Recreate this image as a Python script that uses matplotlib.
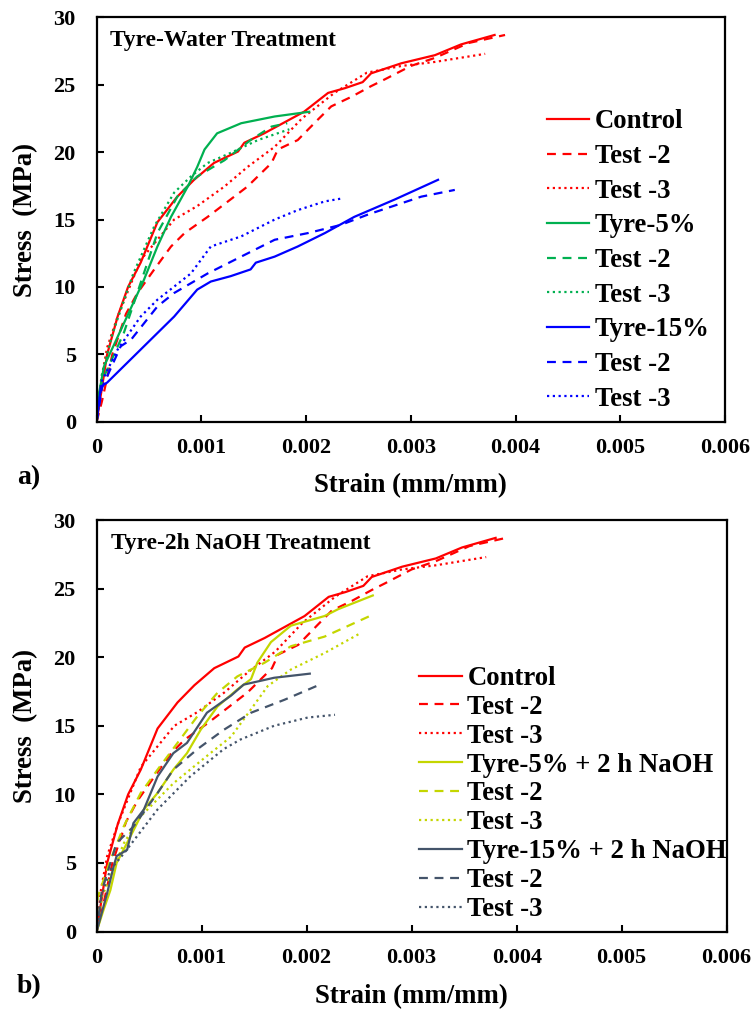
import matplotlib
matplotlib.use("Agg")
import matplotlib.pyplot as plt

plt.rcParams['font.family'] = ['Liberation Serif', 'DejaVu Serif']
plt.rcParams['font.weight'] = 'bold'

# ---------------- data: panel a) Tyre-Water treatment ----------------
control_x = [0, 0.00005, 0.0001, 0.0002, 0.0003, 0.00042, 0.00058, 0.00077, 0.00093, 0.00112,
             0.00135, 0.00141, 0.0016, 0.00179, 0.00198, 0.00221, 0.00237, 0.00254, 0.00262,
             0.00291, 0.00323, 0.00348, 0.0038]
control_y = [0, 2.5, 5.0, 7.8, 10.0, 11.8, 14.8, 16.7, 17.95, 19.2,
             20.05, 20.7, 21.4, 22.2, 23.0, 24.4, 24.75, 25.2, 25.85,
             26.6, 27.2, 28.0, 28.7]
control2_x = [0, 0.00005, 0.00015, 0.00028, 0.00039, 0.00055, 0.00071, 0.00084, 0.00106, 0.00128,
              0.00144, 0.00167, 0.00173, 0.00192, 0.00211, 0.00224, 0.00243, 0.00262, 0.00275,
              0.003, 0.00323, 0.00355, 0.0039]
control2_y = [0, 1.5, 5.0, 8.0, 9.55, 11.3, 13.0, 14.0, 15.2, 16.5,
              17.45, 19.2, 20.2, 20.9, 22.4, 23.4, 24.1, 24.9, 25.4,
              26.4, 27.0, 28.1, 28.7]
control3_x = [0, 0.00004, 0.0001, 0.0002, 0.00042, 0.00074, 0.00096, 0.00122, 0.00144, 0.0017,
              0.00196, 0.00227, 0.00258, 0.00291, 0.00323, 0.00371]
control3_y = [0, 3.0, 5.5, 7.8, 12.0, 15.0, 16.0, 17.45, 18.9, 20.4,
              22.5, 24.4, 25.9, 26.4, 26.7, 27.3]

t5_x = [0, 0.00002, 0.00007, 0.00026, 0.00045, 0.00058, 0.00071, 0.00087, 0.00096, 0.00103,
        0.00115, 0.00138, 0.0017, 0.00203]
t5_y = [0, 2.0, 4.1, 7.3, 10.5, 13.0, 15.2, 17.45, 18.9, 20.2,
        21.4, 22.15, 22.65, 23.0]
t5_2_x = [0, 0.00005, 0.00026, 0.00042, 0.00058, 0.00077, 0.00096, 0.00122, 0.00147, 0.00167, 0.00182]
t5_2_y = [0, 3.0, 6.6, 10.3, 14.0, 16.7, 18.2, 19.4, 20.9, 21.9, 22.15]
t5_3_x = [0, 0.00005, 0.00015, 0.00035, 0.00055, 0.00074, 0.0009, 0.00106, 0.00128, 0.00154, 0.00184]
t5_3_y = [0, 3.5, 6.5, 11.0, 14.5, 17.0, 18.2, 19.2, 19.95, 20.9, 21.7]

t15_x = [0, 0.00004, 0.0001, 0.00042, 0.00074, 0.00096, 0.00109, 0.00128, 0.00147, 0.00152,
         0.0017, 0.00192, 0.00218, 0.00246, 0.00285, 0.00326]
t15_y = [0, 2.6, 2.9, 5.35, 7.8, 9.8, 10.4, 10.8, 11.3, 11.8,
         12.25, 13.0, 14.0, 15.2, 16.5, 17.95]
t15_2_x = [0, 0.00005, 0.00023, 0.00033, 0.00058, 0.00074, 0.00106, 0.00138, 0.0017, 0.00202,
           0.00233, 0.0026, 0.0031, 0.00342]
t15_2_y = [0, 2.5, 5.6, 6.1, 8.55, 9.55, 11.0, 12.25, 13.5, 14.0,
           14.6, 15.4, 16.7, 17.2]
t15_3_x = [0, 0.00005, 0.0002, 0.00042, 0.00058, 0.0009, 0.00109, 0.00138, 0.0017, 0.00192,
           0.00218, 0.00233]
t15_3_y = [0, 3.0, 5.35, 7.8, 9.05, 11.0, 13.0, 13.75, 15.0, 15.7,
           16.35, 16.55]

# ---------------- data: panel b) Tyre-2h NaOH treatment ----------------
n5_x = [0, 0.000065, 0.00013, 0.00019, 0.00032, 0.00045, 0.00058, 0.00073, 0.00086, 0.00099,
        0.00115, 0.00134, 0.00147, 0.00153, 0.00166, 0.00185, 0.00217, 0.0023, 0.00263]
n5_y = [0, 1.57, 3.0, 5.0, 6.9, 8.9, 10.1, 11.8, 13.0, 14.7,
        16.4, 17.65, 18.4, 19.6, 21.1, 22.3, 23.0, 23.5, 24.5]
n5_2_x = [0, 0.00001, 0.00013, 0.00026, 0.00042, 0.00058, 0.00077, 0.00096, 0.00115, 0.00134,
          0.0016, 0.00185, 0.00217, 0.00263]
n5_2_y = [0, 2.5, 5.2, 7.7, 10.1, 11.8, 13.75, 15.7, 17.4, 18.6,
          19.6, 20.8, 21.5, 23.1]
n5_3_x = [0, 0.00005, 0.00026, 0.00042, 0.00073, 0.00105, 0.00128, 0.00147, 0.00163, 0.00185,
          0.00217, 0.0025]
n5_3_y = [0, 2.5, 6.45, 8.4, 10.8, 12.8, 14.2, 16.2, 17.9, 19.1,
          20.3, 21.7]

n15_x = [0, 0.0001, 0.00016, 0.00019, 0.00029, 0.00035, 0.00045, 0.00058, 0.00073, 0.00086,
         0.00105, 0.00128, 0.0014, 0.00169, 0.00203]
n15_y = [0, 2.8, 4.7, 5.5, 5.95, 7.9, 8.9, 11.3, 13.0, 13.75,
         15.95, 17.2, 18.0, 18.5, 18.8]
n15_2_x = [0, 0.00005, 0.00019, 0.00035, 0.00058, 0.00073, 0.00096, 0.00121, 0.00147, 0.00179, 0.00211]
n15_2_y = [0, 3.0, 6.45, 7.65, 10.1, 11.8, 13.3, 14.7, 15.95, 16.9, 17.95]
n15_3_x = [0, 0.00004, 0.00013, 0.00026, 0.00058, 0.00089, 0.00121, 0.00137, 0.00169, 0.00201, 0.00227]
n15_3_y = [0, 2.5, 4.5, 5.7, 8.9, 11.3, 13.3, 14.0, 15.0, 15.6, 15.8]

x_ticks = [0, 0.001, 0.002, 0.003, 0.004, 0.005, 0.006]
x_tick_labels = ['0', '0.001', '0.002', '0.003', '0.004', '0.005', '0.006']
y_ticks = [0, 5, 10, 15, 20, 25, 30]

labels_a = ['Control', 'Test -2', 'Test -3', 'Tyre-5%', 'Test -2', 'Test -3',
            'Tyre-15%', 'Test -2', 'Test -3']
labels_b = ['Control', 'Test -2', 'Test -3', 'Tyre-5% + 2 h NaOH', 'Test -2', 'Test -3',
            'Tyre-15% + 2 h NaOH', 'Test -2', 'Test -3']

RED, GREEN, BLUE = '#ff0000', '#00b050', '#0000ff'
YEL, SLATE = '#c4d600', '#44546a'
LW = 1.6
DASH = (0, (4, 3))
DOT = (0, (1, 1.6))

fig = plt.figure(figsize=(7.54, 10.09), dpi=100)
ax1 = fig.add_axes([0.1282, 0.5821, 0.8333, 0.4006])
ax2 = fig.add_axes([0.1282, 0.0768, 0.8355, 0.4078])

series_a = [
    (control_x, control_y, RED, '-'), (control2_x, control2_y, RED, DASH), (control3_x, control3_y, RED, DOT),
    (t5_x, t5_y, GREEN, '-'), (t5_2_x, t5_2_y, GREEN, DASH), (t5_3_x, t5_3_y, GREEN, DOT),
    (t15_x, t15_y, BLUE, '-'), (t15_2_x, t15_2_y, BLUE, DASH), (t15_3_x, t15_3_y, BLUE, DOT),
]
series_b = [
    (control_x, control_y, RED, '-'), (control2_x, control2_y, RED, DASH), (control3_x, control3_y, RED, DOT),
    (n5_x, n5_y, YEL, '-'), (n5_2_x, n5_2_y, YEL, DASH), (n5_3_x, n5_3_y, YEL, DOT),
    (n15_x, n15_y, SLATE, '-'), (n15_2_x, n15_2_y, SLATE, DASH), (n15_3_x, n15_3_y, SLATE, DOT),
]


def setup(ax, series, labels, title, leg_anchor, labelspacing, title_size):
    handles = []
    for (x, y, c, ls), lab in zip(series, labels):
        h, = ax.plot(x, y, color=c, linestyle=ls, linewidth=LW, label=lab)
        handles.append(h)
    ax.set_xlim(0, 0.006)
    ax.set_ylim(0, 30)
    ax.set_xticks(x_ticks)
    ax.set_xticklabels(x_tick_labels)
    ax.set_yticks(y_ticks)
    ax.tick_params(direction='in', length=5, width=1.5, labelsize=16, pad=12)
    ax.tick_params(axis='y', pad=15)
    for t in ax.get_xticklabels() + ax.get_yticklabels():
        t.set_fontweight('bold')
    for s in ax.spines.values():
        s.set_linewidth(1.6)
        s.set_color('black')
    ax.set_xlabel('Strain (mm/mm)', fontsize=19.3, fontweight='bold')
    ax.set_ylabel('Stress  (MPa)', fontsize=19.3, fontweight='bold')
    ax.xaxis.set_label_coords(0.5, -0.128)
    ax.yaxis.set_label_coords(-0.093, 0.5)
    ax.text(0.022, 0.944, title, transform=ax.transAxes, fontsize=title_size, fontweight='bold',
            ha='left', va='center')
    leg = ax.legend(handles=handles, loc='upper left', bbox_to_anchor=leg_anchor,
                    frameon=False, handlelength=1.6, handletextpad=0.2,
                    labelspacing=labelspacing, borderpad=0, borderaxespad=0,
                    prop={'weight': 'bold', 'size': 19.3})
    return leg


setup(ax1, series_a, labels_a, 'Tyre-Water Treatment', (0.716, 0.7726), 0.36, 16.9)
setup(ax2, series_b, labels_b, 'Tyre-2h NaOH Treatment', (0.512, 0.6454), 0.145, 16.9)

fig.text(17 / 754, 1 - 478 / 1009, 'a)', fontsize=20, fontweight='bold', ha='left', va='center')
fig.text(17 / 754, 1 - 987 / 1009, 'b)', fontsize=20, fontweight='bold', ha='left', va='center')

fig.savefig('out.png', dpi=100)
